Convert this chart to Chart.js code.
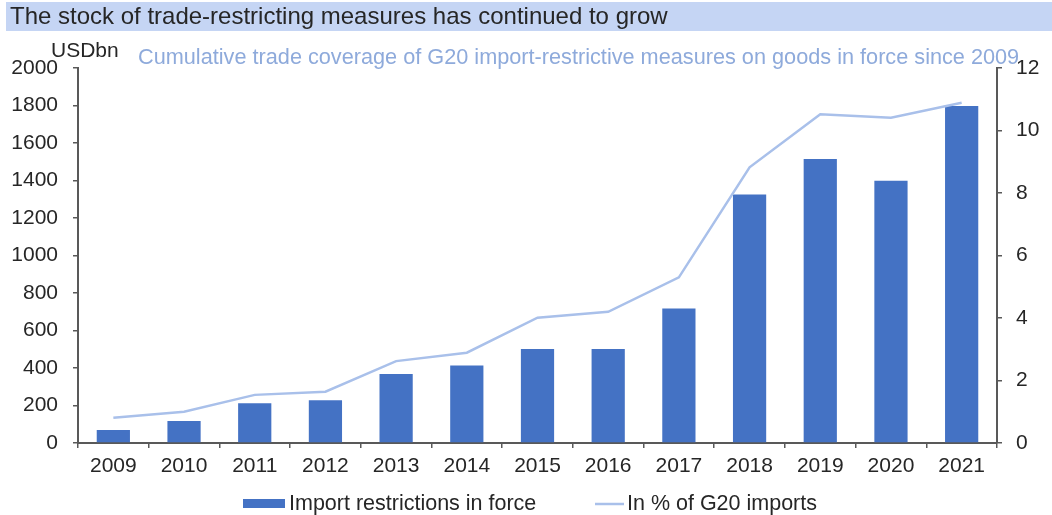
<!DOCTYPE html>
<html lang="en">
<head>
<meta charset="UTF-8">
<title>Trade-restricting measures</title>
<script src="https://cdn.jsdelivr.net/npm/chart.js"></script>
<style>
    body { margin: 0; background: #fff; }
    #wrap { width: 1052px; height: 515px; }
</style>
</head>
<body>
<div id="wrap"><canvas id="chart" width="1052" height="515"></canvas></div>
<script>
    // Years on the x axis
    const years = ['2009', '2010', '2011', '2012', '2013', '2014', '2015',
                   '2016', '2017', '2018', '2019', '2020', '2021'];
    // Trade covered by import restrictions in force, USD bn
    const restrictions = [69, 117, 212, 228, 368, 414, 501, 501, 718, 1326, 1515, 1399, 1797];
    // Same, as % of G20 imports (right axis)
    const shareOfImports = [0.81, 1.0, 1.54, 1.64, 2.62, 2.89, 4.01, 4.2, 5.3, 8.82, 10.52, 10.41, 10.89];

    const leftTicks = [0, 200, 400, 600, 800, 1000, 1200, 1400, 1600, 1800, 2000];
    const rightTicks = [0, 2, 4, 6, 8, 10, 12];

    const titleText = 'The stock of trade-restricting measures has continued to grow';
    const subtitleText = 'Cumulative trade coverage of G20 import-restrictive measures on goods in force since 2009';
    const unitText = 'USDbn';
    const barLabel = 'Import restrictions in force';
    const lineLabel = 'In % of G20 imports';

    const BAR_COLOR = '#4472c4';
    const LINE_COLOR = '#a9c0ea';
    const AXIS_COLOR = '#595959';
    const TEXT_COLOR = '#262626';
    const FONT = '"Liberation Sans", Arial, sans-serif';

    // header strip, unit label, subtitle and the legend
    const decorations = {
        id: 'decorations',
        beforeDraw(chart) {
            const c = chart.ctx;
            c.save();
            c.fillStyle = '#c5d5f4';
            c.fillRect(6, 2, 1046, 29);
            c.fillStyle = TEXT_COLOR;
            c.textBaseline = 'middle';
            c.font = '24px ' + FONT;
            c.fillText(titleText, 10, 17);
            c.restore();
        },
        afterDraw(chart) {
            const c = chart.ctx;
            c.save();
            c.textBaseline = 'middle';
            c.fillStyle = TEXT_COLOR;
            c.font = '21px ' + FONT;
            c.fillText(unitText, 51, 51);
            c.fillStyle = '#8eaadb';
            c.font = '21.7px ' + FONT;
            c.fillText(subtitleText, 138, 58);

            // legend
            c.fillStyle = BAR_COLOR;
            c.fillRect(243, 499, 42, 9);
            c.fillStyle = TEXT_COLOR;
            c.font = '21.5px ' + FONT;
            c.fillText(barLabel, 289, 504);
            c.strokeStyle = LINE_COLOR;
            c.lineWidth = 2.5;
            c.beginPath();
            c.moveTo(595, 504);
            c.lineTo(624, 504);
            c.stroke();
            c.fillText(lineLabel, 627, 504);
            c.restore();
        }
    };

    const tickFont = { family: FONT, size: 21 };

    new Chart(document.getElementById('chart'), {
        data: {
            labels: years,
            datasets: [
                {
                    type: 'line',
                    label: lineLabel,
                    data: shareOfImports,
                    yAxisID: 'y1',
                    borderColor: LINE_COLOR,
                    borderWidth: 2.5,
                    pointRadius: 0,
                    tension: 0,
                    order: 0
                },
                {
                    type: 'bar',
                    label: barLabel,
                    data: restrictions,
                    yAxisID: 'y',
                    backgroundColor: BAR_COLOR,
                    categoryPercentage: 1,
                    barPercentage: 0.47,
                    order: 1
                }
            ]
        },
        options: {
            responsive: false,
            animation: false,
            layout: { padding: { top: 68, left: 0, right: 0, bottom: 0 } },
            plugins: {
                legend: { display: false },
                tooltip: { enabled: false }
            },
            scales: {
                x: {
                    grid: { display: true, drawOnChartArea: false, offset: true, color: AXIS_COLOR, tickLength: 5, lineWidth: 1.5 },
                    border: { display: true, color: AXIS_COLOR, width: 2 },
                    ticks: { color: TEXT_COLOR, font: tickFont, padding: 6, maxRotation: 0 },
                    afterFit(scale) { scale.height = 72; }
                },
                y: {
                    position: 'left',
                    min: 0,
                    max: 2000,
                    afterBuildTicks(scale) { scale.ticks = leftTicks.map(v => ({ value: v })); },
                    grid: { drawOnChartArea: false, color: AXIS_COLOR, tickLength: 5, lineWidth: 1.5 },
                    border: { display: true, color: AXIS_COLOR, width: 2 },
                    ticks: { color: TEXT_COLOR, font: tickFont, padding: 15, callback: v => String(v) },
                    afterFit(scale) { scale.width = 78; }
                },
                y1: {
                    position: 'right',
                    min: 0,
                    max: 12,
                    afterBuildTicks(scale) { scale.ticks = rightTicks.map(v => ({ value: v })); },
                    grid: { drawOnChartArea: false, color: AXIS_COLOR, tickLength: 5, lineWidth: 1.5 },
                    border: { display: true, color: AXIS_COLOR, width: 2 },
                    ticks: { color: TEXT_COLOR, font: tickFont, padding: 14, callback: v => String(v) },
                    afterFit(scale) { scale.width = 55; }
                }
            }
        },
        plugins: [decorations]
    });
</script>
</body>
</html>
